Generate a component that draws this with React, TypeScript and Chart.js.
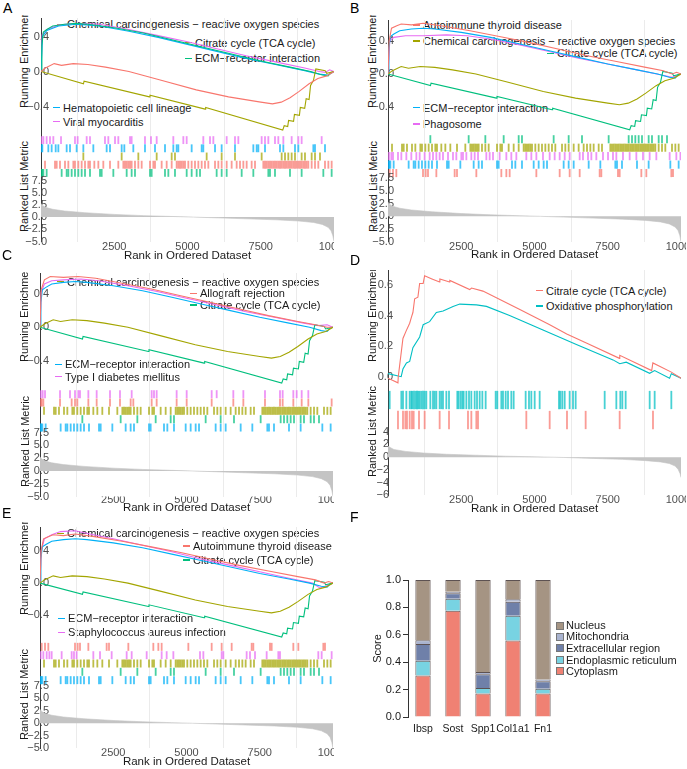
import React, { useEffect, useRef } from 'react';
import { Chart, registerables } from 'chart.js';

Chart.register(...registerables);

const FONT = '"Liberation Sans", Arial, Helvetica, sans-serif';
Chart.defaults.font.family = FONT;

type Pt = [number, number];

/* ---------------- axis values ---------------- */
const RANK_GRID = [0, 1250, 2500, 3750, 5000, 6250, 7500, 8750, 10000];
const RANK_LABELS = [2500, 5000, 7500, 10000];
const ES_TICKS = [-0.4, 0, 0.4];
const ES_TICKS_D = [0, 0.2, 0.4, 0.6];
const METRIC_TICKS = [-5, -2.5, 0, 2.5, 5, 7.5];
const METRIC_TICKS_D = [-6, -4, -2, 0, 2, 4];

/* ---------------- ranked list metric ---------------- */
const metricMain: Pt[] = [[0, 2.8], [50, 2.4], [150, 2.0], [400, 1.6], [800, 1.25], [1500, 0.9], [2500, 0.55], [3500, 0.3], [4500, 0.12], [5200, 0.0], [6000, -0.15], [7000, -0.35], [8000, -0.55], [8800, -0.8], [9300, -1.1], [9600, -1.5], [9800, -2.1], [9900, -2.8], [9960, -3.8], [10000, -5.0]];
const metricD: Pt[] = [[0, 1.7], [200, 1.2], [600, 0.9], [1200, 0.65], [2000, 0.45], [3000, 0.3], [4000, 0.15], [5000, 0.05], [6000, -0.05], [7000, -0.2], [8000, -0.35], [8800, -0.55], [9300, -0.75], [9600, -1.0], [9800, -1.4], [9900, -1.9], [9970, -2.6], [10000, -3.2]];

/* ---------------- running enrichment scores ---------------- */
const esChemical: Pt[] = [[0, 0], [150, 0.04], [450, 0.09], [700, 0.07], [1100, 0.09], [1600, 0.08], [2200, 0.05], [3000, 0.0], [4100, -0.10], [5300, -0.21], [6400, -0.29], [7500, -0.35], [7900, -0.37], [8200, -0.35], [8500, -0.30], [8800, -0.23], [9150, -0.14], [9450, -0.08], [9750, -0.05], [10000, 0]];
const esCitrate: Pt[] = [[0, 0], [1450, -0.14], [1470, -0.11], [3700, -0.29], [3720, -0.27], [5600, -0.43], [5620, -0.41], [8250, -0.67], [8300, -0.62], [8420, -0.63], [8450, -0.56], [8620, -0.57], [8650, -0.49], [8820, -0.50], [8850, -0.41], [9000, -0.42], [9050, -0.31], [9150, -0.32], [9200, -0.16], [9300, -0.10], [9380, 0.03], [9700, 0.01], [9750, -0.02], [10000, 0]];
const esECM: Pt[] = [[0, 0], [30, 0.30], [80, 0.45], [200, 0.48], [400, 0.52], [800, 0.54], [1200, 0.55], [1600, 0.54], [2500, 0.50], [3500, 0.44], [4500, 0.36], [5500, 0.28], [6500, 0.20], [7500, 0.12], [8500, 0.05], [9200, 0.0], [9600, -0.04], [9800, -0.05], [9900, -0.01], [10000, 0]];
const esHemato: Pt[] = [[0, 0], [50, 0.40], [200, 0.47], [600, 0.52], [1200, 0.54], [2000, 0.52], [3000, 0.46], [4000, 0.39], [5000, 0.31], [6000, 0.23], [7000, 0.15], [8000, 0.08], [9000, 0.01], [9500, -0.03], [9800, -0.04], [10000, 0]];
const esViral: Pt[] = [[0, 0], [40, 0.42], [200, 0.48], [600, 0.53], [1200, 0.55], [2000, 0.54], [3000, 0.48], [4000, 0.41], [5000, 0.34], [6000, 0.26], [7000, 0.18], [8000, 0.11], [9000, 0.04], [9500, 0.0], [9700, -0.01], [9850, 0.02], [10000, 0]];
const esAutoimmune: Pt[] = [[0, 0], [40, 0.40], [120, 0.55], [300, 0.58], [450, 0.60], [800, 0.59], [1200, 0.61], [1800, 0.58], [2800, 0.52], [3800, 0.45], [4800, 0.38], [5800, 0.30], [6800, 0.22], [7800, 0.15], [8800, 0.08], [9400, 0.04], [9700, 0.0], [9850, 0.02], [10000, 0]];
const esPhagosome: Pt[] = [[0, 0], [60, 0.40], [200, 0.44], [600, 0.46], [1200, 0.46], [2000, 0.47], [2700, 0.46], [3500, 0.42], [4500, 0.35], [5500, 0.27], [6500, 0.19], [7500, 0.12], [8500, 0.05], [9300, -0.01], [9700, -0.04], [10000, 0]];
const esAllograft: Pt[] = [[0, 0], [40, 0.45], [150, 0.57], [350, 0.61], [800, 0.60], [1300, 0.61], [1900, 0.59], [2800, 0.53], [3800, 0.46], [4800, 0.38], [5800, 0.30], [6800, 0.22], [7800, 0.14], [8800, 0.07], [9400, 0.03], [9800, 0.0], [10000, 0]];
const esTypeI: Pt[] = [[0, 0], [40, 0.42], [150, 0.52], [400, 0.56], [800, 0.57], [1400, 0.58], [2000, 0.56], [3000, 0.50], [4000, 0.43], [5000, 0.35], [6000, 0.27], [7000, 0.19], [8000, 0.12], [9000, 0.05], [9500, 0.02], [9800, 0.03], [10000, 0]];
const esStaph: Pt[] = [[0, 0], [40, 0.40], [150, 0.55], [400, 0.60], [700, 0.64], [1200, 0.65], [1700, 0.61], [2500, 0.55], [3500, 0.47], [4500, 0.39], [5500, 0.30], [6500, 0.22], [7500, 0.14], [8500, 0.06], [9300, 0.0], [9550, -0.06], [9800, -0.03], [10000, 0]];
const esTCA: Pt[] = [[0, -0.01], [340, -0.04], [350, 0.0], [510, 0.25], [620, 0.30], [740, 0.35], [800, 0.39], [850, 0.42], [910, 0.51], [1020, 0.52], [1080, 0.61], [1200, 0.61], [1250, 0.66], [1500, 0.64], [1760, 0.62], [1770, 0.64], [2100, 0.62], [2110, 0.63], [2790, 0.57], [2850, 0.58], [3240, 0.56], [4500, 0.44], [5520, 0.34], [6100, 0.28], [6770, 0.22], [7900, 0.12], [7910, 0.14], [9000, 0.04], [9040, 0.09], [9670, 0.03], [10000, -0.01]];
const esOxPhos: Pt[] = [[0, 0.02], [450, 0.0], [510, 0.05], [630, 0.09], [740, 0.10], [850, 0.19], [1080, 0.26], [1200, 0.34], [1420, 0.36], [1650, 0.42], [1880, 0.43], [2220, 0.46], [2450, 0.475], [3020, 0.47], [3360, 0.46], [4150, 0.40], [5290, 0.305], [6430, 0.21], [7680, 0.11], [7910, 0.085], [8130, 0.095], [8930, 0.022], [9100, 0.04], [9610, -0.01], [9670, 0.02], [10000, -0.01]];

/* ---------------- hit positions (rank) ---------------- */
const hitsChemical = [137, 478, 535, 648, 819, 933, 1104, 1160, 1274, 1388, 1502, 1615, 1672, 1820, 1957, 2127, 2355, 2639, 2810, 2867, 2924, 2981, 3038, 3094, 3208, 3322, 3436, 3720, 3834, 3891, 4118, 4289, 4460, 4630, 4687, 4744, 4801, 4858, 4915, 5028, 5142, 5256, 5370, 5484, 5597, 5711, 5939, 6052, 6166, 6337, 6507, 6678, 6792, 6906, 7019, 7190, 7304, 7588, 7645, 7702, 7759, 7816, 7873, 7930, 7986, 8043, 8100, 8157, 8214, 8271, 8328, 8385, 8441, 8498, 8555, 8612, 8669, 8726, 8783, 8840, 8896, 8953, 9010, 9067, 9124, 9238, 9352, 9465, 9693, 9807, 9920];
const hitsCitrate = [1445, 2753, 3322, 3948, 4460, 4573, 5654, 6166, 6621, 7531, 8214, 8328, 8441, 8555, 8669, 8896, 9010, 9238, 9352, 9522];
const hitsECM = [15, 40, 80, 193, 705, 876, 933, 1047, 1160, 1274, 1388, 1502, 1672, 2014, 2071, 2469, 2924, 3094, 3208, 3720, 3777, 4232, 4346, 4573, 4972, 5142, 5313, 5427, 5995, 6166, 6337, 6849, 7247, 7759, 7816, 7986, 8498, 8896, 9636, 9920];
const hitsHemato = [15, 46, 250, 364, 501, 592, 876, 990, 1217, 1445, 1786, 2241, 2355, 2753, 2844, 3151, 3549, 3891, 4232, 4516, 4630, 4687, 5142, 5484, 5540, 5939, 6166, 6621, 7247, 7361, 7418, 7645, 8157, 8271, 8669, 8783, 9295, 9352, 9693];
const hitsViral = [15, 80, 193, 307, 421, 683, 1160, 1251, 1559, 1672, 2184, 2298, 2526, 2639, 3038, 3094, 3549, 3754, 3948, 4516, 4858, 4972, 5540, 5768, 5882, 6337, 6621, 6735, 7531, 7645, 7759, 7986, 8100, 8271, 8555, 8783, 8896, 9579];
const hitsPhagosome = [34, 114, 171, 341, 455, 626, 796, 967, 1081, 1251, 1422, 1536, 1650, 1763, 1877, 2048, 2218, 2332, 2503, 2560, 2674, 2844, 2958, 3072, 3356, 3470, 3584, 3811, 4039, 4209, 4380, 4721, 4892, 5063, 5290, 5518, 5688, 5859, 6030, 6200, 6542, 6655, 6826, 6940, 7110, 7338, 7509, 7679, 7793, 8020, 8248, 8476, 8703, 8930, 9158, 9613, 9841, 9980];
const hitsAutoimmune = [57, 171, 284, 1195, 1286, 1365, 1650, 2275, 2355, 3015, 3868, 4039, 4152, 5063, 5859, 6200, 6542, 7224, 7281, 7850, 7907, 8646, 8817, 9670, 9727];
const hitsAllograft = [23, 57, 114, 683, 1081, 1195, 1274, 1650, 1934, 2389, 2730, 3094, 3185, 3811, 3982, 4664, 5006, 5859, 6598, 6940, 7679, 8191, 8282, 8646, 8931, 9158, 9954];
const hitsTypeI = [23, 91, 171, 683, 1024, 1195, 1308, 1365, 1650, 1934, 2389, 2730, 3129, 3811, 3891, 3982, 4664, 5006, 5859, 6030, 6598, 6940, 7679, 8191, 8282, 8646, 8760, 8931, 9158];
const hitsStaph = [23, 114, 228, 319, 398, 739, 1081, 1160, 1251, 1820, 2048, 2446, 2958, 3129, 3641, 4152, 4323, 4551, 5461, 5575, 6200, 6257, 7053, 7167, 7338, 7736, 8134, 8191, 9499, 9613, 9954];
const hitsTCA = [341, 512, 592, 648, 740, 819, 876, 1058, 1251, 1763, 2082, 2730, 2844, 3015, 3072, 4721, 5518, 6109, 6746, 7907, 9044];
const hitsOxPhos = [57, 455, 512, 626, 740, 796, 830, 887, 944, 990, 1035, 1081, 1138, 1195, 1251, 1308, 1445, 1536, 1593, 1650, 1763, 1820, 1877, 1991, 2082, 2366, 2412, 2480, 2537, 2582, 2674, 2765, 2844, 2958, 3038, 3129, 3220, 3333, 3675, 3731, 3868, 3925, 4016, 4096, 4209, 4289, 4698, 4812, 4892, 5006, 5176, 5836, 5882, 5950, 6030, 6200, 6314, 6405, 7395, 7793, 7929, 7998, 8111, 8931, 9101, 9670];

/* ---------------- panel F ---------------- */
const F_GENES = ['Ibsp', 'Sost', 'Spp1', 'Col1a1', 'Fn1'];
const F_CYTOPLASM = [0.303, 0.775, 0.171, 0.559, 0.171];
const F_ER = [0.107, 0.088, 0.041, 0.180, 0.036];
const F_EXTRA = [0.122, 0.040, 0.100, 0.102, 0.054];
const F_MITO = [0.029, 0.012, 0.017, 0.018, 0.013];
const F_NUCLEUS = [0.439, 0.085, 0.671, 0.141, 0.726];

/* ---------------- styles ---------------- */
const RED = '#F8766D', OLIVE = '#A3A500', GREEN = '#00BF7D', BLUE = '#00B0F6', MAGENTA = '#E76BF3', CYAN = '#00BFC4';
const GRID_COLOR = '#EBEBEB';
const TICK_COLOR = '#4D4D4D';
const AXIS_COLOR = '#3a3a3a';
const TITLE_COLOR = '#1a1a1a';
const METRIC_FILL = '#C4C4C4';

const SET = {
  chem: { name: 'Chemical carcinogenesis − reactive oxygen species', es: esChemical, hits: hitsChemical },
  citrate: { name: 'Citrate cycle (TCA cycle)', es: esCitrate, hits: hitsCitrate },
  ecm: { name: 'ECM−receptor interaction', es: esECM, hits: hitsECM },
  hemato: { name: 'Hematopoietic cell lineage', es: esHemato, hits: hitsHemato },
  viral: { name: 'Viral myocarditis', es: esViral, hits: hitsViral },
  auto: { name: 'Autoimmune thyroid disease', es: esAutoimmune, hits: hitsAutoimmune },
  phago: { name: 'Phagosome', es: esPhagosome, hits: hitsPhagosome },
  allo: { name: 'Allograft rejection', es: esAllograft, hits: hitsAllograft },
  t1d: { name: 'Type I diabetes mellitus', es: esTypeI, hits: hitsTypeI },
  staph: { name: 'Staphylococcus aureus infection', es: esStaph, hits: hitsStaph },
  tca: { name: 'Citrate cycle (TCA cycle)', es: esTCA, hits: hitsTCA },
  oxphos: { name: 'Oxidative phosphorylation', es: esOxPhos, hits: hitsOxPhos },
};

const minusSign = (s: string) => s.replace('-', '−');
const fmt1 = (v: number) => minusSign((Math.abs(v) < 1e-9 ? 0 : v).toFixed(1));
const fmt0 = (v: number) => minusSign(String(Math.round(v)));

const PANELS: any[] = [
  {
    letter: 'A', left: 0, top: 0, plotL: 41, plotR: 334, clipR: 334, letterX: 3, letterY: 1,
    esTop: 18, esBottom: 131, esZeroY: 71.5, esTickY: 36.5, esTickV: 0.4, esTicks: ES_TICKS, padES: -8,
    rugTop: 136, rugBottom: 177, nRows: 5,
    rTop: 178, rBottom: 241.5, mTickY: 180.5, mTickV: 7.5, mMin: -5, mTicks: METRIC_TICKS, mFmt: fmt1, padM: -6, metric: metricMain,
    labOff: 5, titleOff: 14.5,
    esTitle: { xc: 24, yb: 108, clip: 15 }, rTitle: { xc: 24, yb: 232 },
    entries: [
      { set: SET.chem, color: RED, row: 3, lx: 67, ly: 24.3 },
      { set: SET.citrate, color: OLIVE, row: 2, lx: 195, ly: 42.7 },
      { set: SET.ecm, color: GREEN, row: 4, lx: 195, ly: 58.3 },
      { set: SET.hemato, color: BLUE, row: 1, lx: 63, ly: 107.7 },
      { set: SET.viral, color: MAGENTA, row: 0, lx: 63, ly: 121.7 },
    ],
  },
  {
    letter: 'B', left: 343, top: 0, plotL: 45, plotR: 338, clipR: 343, letterX: 7, letterY: 1,
    esTop: 20, esBottom: 131, esZeroY: 74, esTickY: 40.7, esTickV: 0.4, esTicks: ES_TICKS, padES: -6,
    rugTop: 135, rugBottom: 177.3, nRows: 5,
    rTop: 177.5, rBottom: 241.7, mTickY: 178.3, mTickV: 7.5, mMin: -5, mTicks: METRIC_TICKS, mFmt: fmt1, padM: -6, metric: metricMain,
    labOff: 5, titleOff: 13.3,
    esTitle: { xc: 29, yb: 108.3, clip: 15 }, rTitle: { xc: 30, yb: 231.7 },
    entries: [
      { set: SET.auto, color: RED, row: 4, lx: 80, ly: 25 },
      { set: SET.chem, color: OLIVE, row: 1, lx: 80, ly: 41 },
      { set: SET.citrate, color: GREEN, row: 0, lx: 214, ly: 53.3 },
      { set: SET.ecm, color: BLUE, row: 3, lx: 80, ly: 107.7 },
      { set: SET.phago, color: MAGENTA, row: 2, lx: 80, ly: 124 },
    ],
  },
  {
    letter: 'C', left: 0, top: 250, plotL: 40, plotR: 333, clipR: 334, letterX: 2, letterY: -2,
    esTop: 23, esBottom: 135, esZeroY: 77.3, esTickY: 44, esTickV: 0.4, esTicks: ES_TICKS, padES: -9,
    rugTop: 140, rugBottom: 181.7, nRows: 5,
    rTop: 182, rBottom: 246.5, mTickY: 182.7, mTickV: 7.5, mMin: -5, mTicks: METRIC_TICKS, mFmt: fmt1, padM: -9, metric: metricMain,
    labOff: 3.5, titleOff: 12,
    esTitle: { xc: 24, yb: 111.7, clip: 21.7 }, rTitle: { xc: 25, yb: 236.7 },
    entries: [
      { set: SET.chem, color: OLIVE, row: 2, lx: 67, ly: 31.7 },
      { set: SET.allo, color: RED, row: 1, lx: 200, ly: 43.3 },
      { set: SET.citrate, color: GREEN, row: 3, lx: 200, ly: 55 },
      { set: SET.ecm, color: BLUE, row: 4, lx: 65, ly: 114.3 },
      { set: SET.t1d, color: MAGENTA, row: 0, lx: 65, ly: 126.7 },
    ],
  },
  {
    letter: 'D', left: 343, top: 250, plotL: 45, plotR: 338, clipR: 343, letterX: 7, letterY: 3,
    esTop: 20, esBottom: 137, esZeroY: 126.7, esTickY: 35, esTickV: 0.6, esTicks: ES_TICKS_D, padES: -5,
    rugTop: 140, rugBottom: 180, nRows: 2,
    rTop: 180, rBottom: 245.3, mTickY: 181.7, mTickV: 4, mMin: -6, mTicks: METRIC_TICKS_D, mFmt: fmt0, padM: -1, metric: metricD,
    labOff: 4.5, titleOff: 13.8,
    esTitle: { xc: 29, yb: 111.7, clip: 20 }, rTitle: { xc: 29, yb: 226.7 },
    entries: [
      { set: SET.tca, color: RED, row: 1, lx: 203, ly: 40.7 },
      { set: SET.oxphos, color: CYAN, row: 0, lx: 203, ly: 56 },
    ],
  },
  {
    letter: 'E', left: 0, top: 500, plotL: 40, plotR: 333, clipR: 334, letterX: 2, letterY: 6,
    esTop: 27, esBottom: 139, esZeroY: 83.1, esTickY: 50.9, esTickV: 0.4, esTicks: ES_TICKS, padES: -9,
    rugTop: 142.7, rugBottom: 184.3, nRows: 5,
    rTop: 184.5, rBottom: 248.3, mTickY: 185.7, mTickV: 7.5, mMin: -5, mTicks: METRIC_TICKS, mFmt: fmt1, padM: -9, metric: metricMain,
    labOff: 5, titleOff: 13.4,
    esTitle: { xc: 24, yb: 115, clip: 21.7 }, rTitle: { xc: 24, yb: 240 },
    entries: [
      { set: SET.chem, color: OLIVE, row: 2, lx: 67, ly: 33.3 },
      { set: SET.auto, color: RED, row: 0, lx: 193, ly: 46 },
      { set: SET.citrate, color: GREEN, row: 3, lx: 193, ly: 60 },
      { set: SET.ecm, color: BLUE, row: 4, lx: 68, ly: 118.3 },
      { set: SET.staph, color: MAGENTA, row: 1, lx: 68, ly: 132.3 },
    ],
  },
];

/* ---------------- helpers ---------------- */
function withAlpha(hex: string, a: number) {
  const n = parseInt(hex.slice(1), 16);
  return `rgba(${(n >> 16) & 255},${(n >> 8) & 255},${n & 255},${a})`;
}

function baseOptions(padR: number, padTop: number) {
  return {
    responsive: false,
    animation: false,
    devicePixelRatio: 1,
    events: [],
    layout: { padding: { left: 0, right: padR, top: padTop, bottom: 0 }, autoPadding: false },
    plugins: { legend: { display: false }, tooltip: { enabled: false }, title: { display: false } },
  };
}

function xAxis(showLabels: boolean, labPad: number, height: number) {
  return {
    type: 'linear',
    min: 0,
    max: 10000,
    offset: false,
    afterBuildTicks: (s: any) => { s.ticks = RANK_GRID.map((v) => ({ value: v })); },
    grid: {
      offset: false,
      drawTicks: false,
      lineWidth: 1,
      color: (c: any) => (c.tick && c.tick.value % 2500 === 1250 ? GRID_COLOR : 'rgba(0,0,0,0)'),
    },
    border: { display: false },
    ticks: {
      display: showLabels,
      autoSkip: false,
      maxRotation: 0,
      minRotation: 0,
      padding: labPad,
      font: { size: 11 },
      color: TICK_COLOR,
      callback: (v: number) => (RANK_LABELS.includes(v) ? String(v) : ''),
    },
    title: { display: showLabels, text: 'Rank in Ordered Dataset', font: { size: 11.5 }, color: TITLE_COLOR, padding: 0 },
    afterFit: (s: any) => { s.height = height; s.paddingLeft = 0; s.paddingRight = 0; s.paddingTop = 0; s.paddingBottom = 0; },
  };
}

function yAxis(min: number, max: number, ticks: number[] | null, fmt: (v: number) => string, pad: number, width: number, show: boolean) {
  return {
    type: 'linear',
    min,
    max,
    afterBuildTicks: ticks ? (s: any) => { s.ticks = ticks.map((v) => ({ value: v })); } : undefined,
    grid: { display: false, drawTicks: false },
    border: { display: true, color: AXIS_COLOR, width: 1 },
    ticks: { display: show, padding: pad, autoSkip: false, font: { size: 11 }, color: TICK_COLOR, callback: (v: number) => fmt(v) },
    afterFit: (s: any) => {
      s.width = width; s.paddingTop = 0; s.paddingBottom = 0;
      s._computeLabelArea = () => undefined;
    },
  };
}

function ChartCanvas({ left, top, width, height, make }: any) {
  const ref = useRef<HTMLCanvasElement | null>(null);
  useEffect(() => {
    if (!ref.current) return;
    const chart = new Chart(ref.current, make());
    return () => chart.destroy();
  }, []);
  return (
    <canvas ref={ref} width={width} height={height}
      style={{ position: 'absolute', left, top, width, height, display: 'block' }} />
  );
}

function VTitle({ xc, yb, clip, text }: any) {
  const lh = 13;
  const base: any = {
    position: 'absolute', transform: 'rotate(-90deg)', transformOrigin: 'left top', whiteSpace: 'nowrap',
    fontSize: 11, lineHeight: lh + 'px', fontFamily: FONT, color: TITLE_COLOR,
  };
  if (clip == null) {
    return <div style={{ ...base, left: xc - lh / 2, top: yb }}>{text}</div>;
  }
  return (
    <div style={{ position: 'absolute', left: xc - 15, top: clip, width: 30, height: yb - clip + 2, overflow: 'hidden' }}>
      <div style={{ ...base, left: 15 - lh / 2, top: yb - clip }}>{text}</div>
    </div>
  );
}

function Letter({ x, y, t }: any) {
  return (
    <div style={{ position: 'absolute', left: x, top: y, fontSize: 14, lineHeight: '14px', fontFamily: FONT, color: '#000' }}>{t}</div>
  );
}

function GseaPanel({ p }: { p: any }) {
  const L = p.left, T = p.top;
  const eT = Math.round(p.esTop), eB = Math.round(p.esBottom), rT = Math.round(p.rTop);
  const W = p.clipR;
  const padR = p.clipR - p.plotR;

  const esUnit = (p.esZeroY - p.esTickY) / p.esTickV;
  const esMax = (p.esZeroY - eT) / esUnit;
  const esMin = -(eB - p.esZeroY) / esUnit;

  const rugUnit = (p.rugBottom - p.rugTop) / p.nRows;
  const rugMin = -(rT - p.rugBottom) / rugUnit;
  const rugMax = p.nRows + (p.rugTop - eB) / rugUnit;

  const mUnit = (p.rBottom - p.mTickY) / (p.mTickV - p.mMin);
  const mMax = p.mTickV + (p.mTickY - rT) / mUnit;
  const rPadTop = 10;
  const rH = Math.round(rPadTop + (p.rBottom - rT) + p.titleOff + 6.9);
  const xAxisH = rH - rPadTop - (p.rBottom - rT);

  const makeES = () => ({
    type: 'line',
    data: {
      datasets: p.entries.map((e: any) => ({
        data: e.set.es.map(([x, y]: Pt) => ({ x, y })),
        borderColor: e.color, borderWidth: 1.1, pointRadius: 0, fill: false, tension: 0,
      })),
    },
    options: { ...baseOptions(padR, 0), scales: { x: xAxis(false, 0, 0), y: yAxis(esMin, esMax, p.esTicks, fmt1, p.padES, p.plotL, true) } },
  });

  const makeRug = () => ({
    type: 'bar',
    data: {
      datasets: p.entries.map((e: any) => ({
        data: e.set.hits.map((h: number) => ({ x: h, y: [p.nRows - 1 - e.row + 0.06, p.nRows - e.row - 0.06] })),
        backgroundColor: withAlpha(e.color, 0.72), borderWidth: 0, barThickness: 1.15, grouped: false,
      })),
    },
    options: { ...baseOptions(padR, 0), scales: { x: xAxis(false, 0, 0), y: yAxis(rugMin, rugMax, null, fmt1, 0, p.plotL, false) } },
  });

  const makeMetric = () => ({
    type: 'line',
    data: {
      datasets: [{
        data: p.metric.map(([x, y]: Pt) => ({ x, y })),
        borderColor: METRIC_FILL, backgroundColor: METRIC_FILL, borderWidth: 0.6, pointRadius: 0, fill: 'origin', tension: 0,
      }],
    },
    options: {
      ...baseOptions(padR, rPadTop),
      scales: { x: xAxis(true, p.labOff - 6.6, xAxisH), y: yAxis(p.mMin, mMax, p.mTicks, p.mFmt, p.padM, p.plotL, true) },
    },
  });

  return (
    <>
      <Letter x={L + p.letterX} y={T + p.letterY} t={p.letter} />
      {p.entries.map((e: any, i: number) => (
        <React.Fragment key={i}>
          <div style={{ position: 'absolute', left: L + e.lx - 10, top: T + e.ly - 0.75, width: 7, height: 1.5, background: e.color }} />
          <div style={{
            position: 'absolute', left: L + e.lx, top: T + e.ly - 7, height: 14, lineHeight: '14px', fontSize: 11,
            fontFamily: FONT, color: TITLE_COLOR, whiteSpace: 'nowrap',
          }}>{e.set.name}</div>
        </React.Fragment>
      ))}
      <VTitle xc={L + p.esTitle.xc} yb={T + p.esTitle.yb} clip={T + p.esTitle.clip} text="Running Enrichment Score" />
      <VTitle xc={L + p.rTitle.xc} yb={T + p.rTitle.yb} text="Ranked List Metric" />
      <ChartCanvas left={L} top={T + eT} width={W} height={eB - eT} make={makeES} />
      <ChartCanvas left={L} top={T + eB} width={W} height={rT - eB} make={makeRug} />
      <ChartCanvas left={L} top={T + rT - rPadTop} width={W} height={rH} make={makeMetric} />
    </>
  );
}

const F_SERIES = [
  { label: 'Cytoplasm', data: F_CYTOPLASM, color: '#F08173' },
  { label: 'Endoplasmic reticulum', data: F_ER, color: '#78D3E2' },
  { label: 'Extracellular region', data: F_EXTRA, color: '#6F80A9' },
  { label: 'Mitochondria', data: F_MITO, color: '#A9B3CF' },
  { label: 'Nucleus', data: F_NUCLEUS, color: '#A59483' },
];

function PanelF() {
  const makeF = () => ({
    type: 'bar',
    data: {
      labels: F_GENES,
      datasets: F_SERIES.map((s) => ({
        label: s.label, data: s.data, backgroundColor: s.color, borderColor: '#5d5252', borderWidth: 1,
        barPercentage: 0.51, categoryPercentage: 1,
      })),
    },
    options: {
      ...baseOptions(0, 10),
      scales: {
        x: {
          stacked: true,
          grid: { display: false, drawTicks: false },
          border: { display: false },
          ticks: { font: { size: 10.5 }, color: TITLE_COLOR, padding: 6, maxRotation: 0, autoSkip: false },
          afterFit: (s: any) => { s.height = 22; s.paddingLeft = 0; s.paddingRight = 0; },
        },
        y: {
          stacked: true, min: 0, max: 1,
          ticks: { stepSize: 0.2, font: { size: 11 }, color: TITLE_COLOR, padding: 2, callback: (v: number) => v.toFixed(1) },
          grid: { display: true, drawOnChartArea: false, drawTicks: true, tickLength: 5, color: '#333' },
          border: { display: true, color: '#333', width: 1 },
          title: { display: true, text: 'Score', font: { size: 11 }, color: TITLE_COLOR, padding: 0 },
          afterFit: (s: any) => { s.width = 37; s.paddingTop = 0; s.paddingBottom = 0; },
        },
      },
    },
  });
  const legendY = [625, 636.3, 647.8, 659.5, 670.8];
  const legendItems = [...F_SERIES].reverse();
  return (
    <>
      <Letter x={350} y={510} t="F" />
      <ChartCanvas left={371} top={570} width={187} height={169} make={makeF} />
      {legendItems.map((s, i) => (
        <React.Fragment key={s.label}>
          <div style={{ position: 'absolute', left: 556, top: legendY[i] - 3.5, width: 6, height: 6, background: s.color, border: '0.5px solid #777' }} />
          <div style={{ position: 'absolute', left: 566, top: legendY[i] - 7, height: 14, lineHeight: '14px', fontSize: 11, fontFamily: FONT, color: TITLE_COLOR, whiteSpace: 'nowrap' }}>{s.label}</div>
        </React.Fragment>
      ))}
    </>
  );
}

export default function App() {
  return (
    <div style={{ position: 'absolute', left: 0, top: 0, width: 687, height: 769, overflow: 'hidden', background: '#fff' }}>
      {PANELS.map((p) => <GseaPanel key={p.letter} p={p} />)}
      <PanelF />
    </div>
  );
}
